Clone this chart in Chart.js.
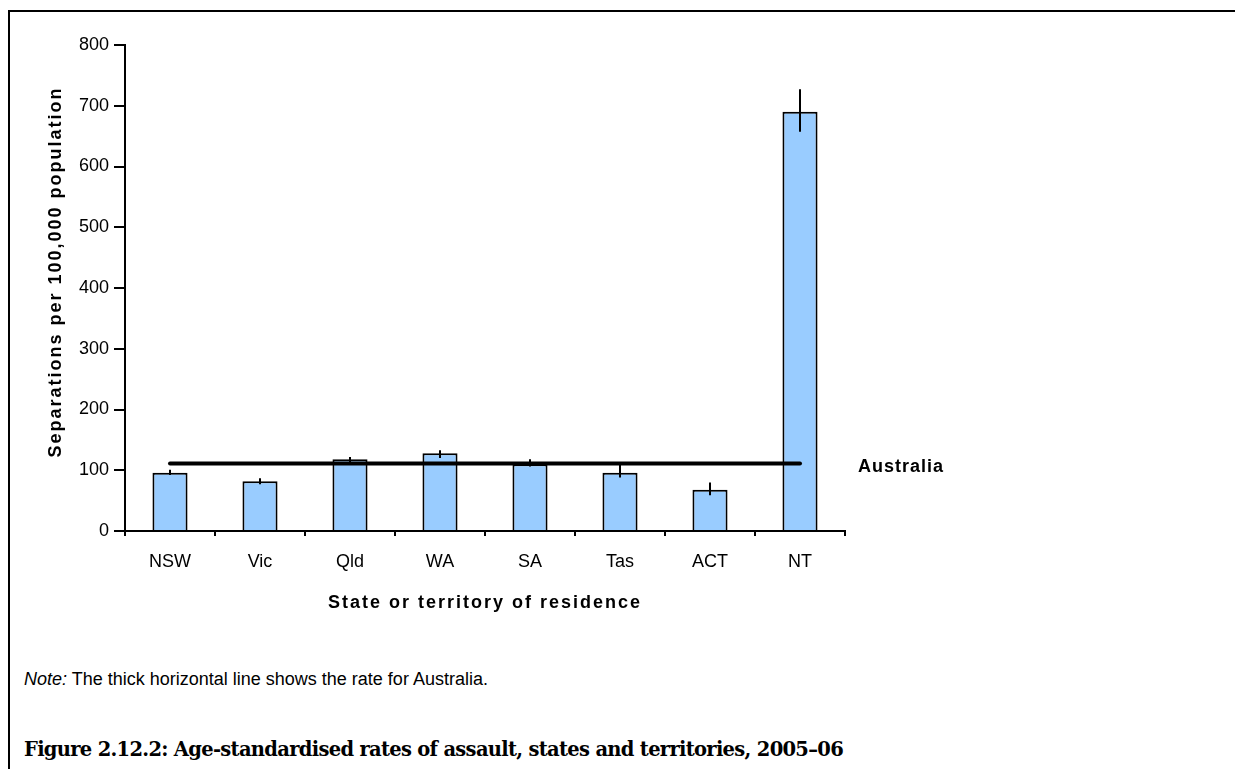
<!DOCTYPE html>
<html>
<head>
<meta charset="utf-8">
<script src="https://cdn.jsdelivr.net/npm/chart.js@4"></script>
<style>
  body { margin: 0; background: #fff; width: 1235px; height: 769px; overflow: hidden; position: relative;
         font-family: "Liberation Sans", Arial, sans-serif; color: #000; }
  #frame { position: absolute; left: 8px; top: 10px; width: 1300px; height: 800px;
           border-top: 2px solid #000; border-left: 2px solid #000; }
  #chartBox { position: absolute; left: 0; top: 0; width: 1235px; height: 620px; }
  #note { position: absolute; left: 24px; top: 670px; font-size: 18px; line-height: 18px; white-space: nowrap; }
  #caption { position: absolute; left: 24px; top: 740px; font: bold 19.5px/20px "DejaVu Serif", serif; letter-spacing: -0.7px; white-space: nowrap; }
</style>
</head>
<body>
<div id="frame"></div>
<div id="chartBox"><canvas id="myChart"></canvas></div>
<div id="note"><i>Note:</i> The thick horizontal line shows the rate for Australia.</div>
<div id="caption">Figure 2.12.2: Age-standardised rates of assault, states and territories, 2005–06</div>
<script>
const categories = ["NSW", "Vic", "Qld", "WA", "SA", "Tas", "ACT", "NT"];
const rates = [96, 82, 118, 128, 110, 96, 68, 690];
const ciLow = [92, 77, 113, 120, 106, 88, 59, 657];
const ciHigh = [101, 87, 122, 133, 118, 110, 80, 727];
const australiaRate = 111;
const australiaLabel = "Australia";
const yTitle = "Separations per 100,000 population";
const xTitle = "State or territory of residence";

const fontFamily = "'Liberation Sans', Arial, sans-serif";

// error bars, axis titles and the Australia label
const extras = {
    id: "extras",
    afterDatasetDraw(chart, args) {
        if (args.meta.type !== "bar") return;
        const ctx = chart.ctx;
        const x = chart.scales.x;
        const y = chart.scales.y;
        ctx.save();
        ctx.strokeStyle = "#000";
        ctx.lineWidth = 2;
        for (let i = 0; i < categories.length; i++) {
            const px = Math.round(x.getPixelForValue(i));
            ctx.beginPath();
            ctx.moveTo(px, y.getPixelForValue(ciLow[i]));
            ctx.lineTo(px, y.getPixelForValue(ciHigh[i]));
            ctx.stroke();
        }
        ctx.restore();
    },
    afterDraw(chart) {
        const ctx = chart.ctx;
        const area = chart.chartArea;
        const y = chart.scales.y;
        ctx.save();
        ctx.fillStyle = "#000";
        ctx.font = "bold 18px " + fontFamily;
        ctx.textBaseline = "middle";

        ctx.letterSpacing = "2px";
        ctx.textAlign = "center";
        ctx.fillText(xTitle, (area.left + area.right) / 2, 603);

        ctx.save();
        ctx.translate(56, 272);
        ctx.rotate(-Math.PI / 2);
        ctx.fillText(yTitle, 0, 0);
        ctx.restore();

        ctx.letterSpacing = "1px";
        ctx.textAlign = "left";
        ctx.fillText(australiaLabel, area.right + 13, y.getPixelForValue(australiaRate) + 3);
        ctx.restore();
    }
};

new Chart("myChart", {
    data: {
        labels: categories,
        datasets: [{
            type: "line",
            data: categories.map(() => australiaRate),
            borderColor: "#000",
            borderWidth: 4,
            borderCapStyle: "round",
            pointRadius: 0,
            fill: false,
            order: 0
        }, {
            type: "bar",
            data: rates,
            backgroundColor: "#99CCFF",
            borderColor: "#000",
            borderWidth: 2,
            categoryPercentage: 1,
            barPercentage: 0.39,
            order: 1
        }]
    },
    options: {
        responsive: true,
        maintainAspectRatio: false,
        animation: false,
        layout: { padding: { left: 0, right: 390, top: 45, bottom: 0 } },
        scales: {
            x: {
                grid: { drawOnChartArea: false, tickLength: 5, color: "#000", lineWidth: 2, offset: true },
                border: { color: "#000", width: 2 },
                ticks: { color: "#000", font: { size: 18, family: fontFamily }, padding: 15, maxRotation: 0 },
                afterFit(scale) { scale.height = 89; }
            },
            y: {
                min: 0,
                max: 800,
                grid: { drawOnChartArea: false, tickLength: 11, color: "#000", lineWidth: 2 },
                border: { color: "#000", width: 2 },
                ticks: { stepSize: 100, color: "#000", font: { size: 18, family: fontFamily }, padding: 5 },
                afterFit(scale) { scale.width = 125; }
            }
        },
        plugins: {
            legend: { display: false },
            tooltip: { enabled: false },
            title: { display: false }
        }
    },
    plugins: [extras]
});
</script>
</body>
</html>
